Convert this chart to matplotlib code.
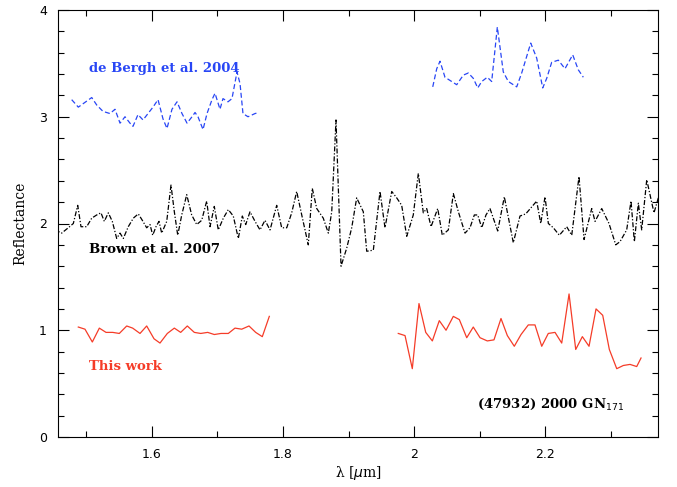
import matplotlib
matplotlib.use("Agg")
import matplotlib.pyplot as plt
from matplotlib.ticker import MultipleLocator

# de Bergh et al. 2004 (blue, dashed) - two segments
wl_db1 = [1.4774, 1.4875, 1.5080, 1.5156, 1.5252, 1.5359, 1.5435, 1.5512, 1.5588, 1.5664,
          1.5710, 1.5786, 1.5863, 1.5939, 1.6015, 1.6092, 1.6168, 1.6229, 1.6305, 1.6382,
          1.6458, 1.6535, 1.6611, 1.6657, 1.6702, 1.6779, 1.6840, 1.6916, 1.6962, 1.7038,
          1.7084, 1.7160, 1.7221, 1.7298, 1.7344, 1.7389, 1.7466, 1.7573, 1.7634]
rf_db1 = [3.16, 3.09, 3.18, 3.11, 3.05, 3.03, 3.07, 2.94, 3.00, 2.94,
          2.91, 3.02, 2.97, 3.03, 3.09, 3.16, 2.98, 2.89, 3.07, 3.14,
          3.03, 2.94, 3.00, 3.04, 3.00, 2.88, 3.03, 3.16, 3.22, 3.07,
          3.17, 3.14, 3.17, 3.42, 3.31, 3.03, 3.00, 3.03, 3.04]
wl_db2 = [2.0286, 2.0347, 2.0397, 2.0473, 2.0550, 2.0652, 2.0753, 2.0829, 2.0905, 2.0973,
          2.1034, 2.1119, 2.1186, 2.1272, 2.1363, 2.1440, 2.1568, 2.1644, 2.1782, 2.1873,
          2.1965, 2.2026, 2.2102, 2.2203, 2.2305, 2.2423, 2.2508, 2.2585]
rf_db2 = [3.28, 3.45, 3.52, 3.37, 3.34, 3.30, 3.39, 3.41, 3.36, 3.27,
          3.33, 3.37, 3.33, 3.84, 3.42, 3.33, 3.28, 3.41, 3.69, 3.55,
          3.27, 3.36, 3.51, 3.53, 3.45, 3.58, 3.44, 3.37]

# Brown et al. 2007 (black, dash-dot)
wl_br = [1.4520, 1.4621, 1.4722, 1.4799, 1.4866, 1.4916, 1.5003, 1.5080, 1.5156, 1.5221,
         1.5272, 1.5333, 1.5394, 1.5461, 1.5512, 1.5562, 1.5638, 1.5715, 1.5791, 1.5852,
         1.5919, 1.5970, 1.6011, 1.6061, 1.6107, 1.6148, 1.6225, 1.6290, 1.6341, 1.6393,
         1.6454, 1.6530, 1.6606, 1.6683, 1.6759, 1.6835, 1.6886, 1.6951, 1.7012, 1.7089,
         1.7165, 1.7241, 1.7318, 1.7379, 1.7431, 1.7496, 1.7573, 1.7649, 1.7725, 1.7802,
         1.7904, 1.7980, 1.8057, 1.8133, 1.8209, 1.8286, 1.8386, 1.8447, 1.8515, 1.8615,
         1.8692, 1.8744, 1.8809, 1.8886, 1.8973, 1.9049, 1.9125, 1.9226, 1.9278, 1.9379,
         1.9481, 1.9557, 1.9660, 1.9736, 1.9812, 1.9889, 1.9989, 2.0066, 2.0142, 2.0194,
         2.0260, 2.0362, 2.0432, 2.0524, 2.0601, 2.0677, 2.0779, 2.0855, 2.0921, 2.0973,
         2.1034, 2.1099, 2.1160, 2.1278, 2.1379, 2.1516, 2.1618, 2.1706, 2.1873, 2.1935,
         2.2000, 2.2051, 2.2127, 2.2219, 2.2331, 2.2408, 2.2519, 2.2596, 2.2713, 2.2764,
         2.2866, 2.2977, 2.3080, 2.3145, 2.3247, 2.3313, 2.3364, 2.3425, 2.3476, 2.3553,
         2.3603, 2.3664, 2.3730]
rf_br = [1.94, 1.91, 1.96, 2.00, 2.17, 1.97, 1.97, 2.05, 2.08, 2.10,
         2.02, 2.10, 2.02, 1.86, 1.91, 1.86, 1.97, 2.05, 2.09, 2.03,
         1.96, 1.99, 1.89, 1.97, 2.02, 1.91, 2.02, 2.36, 2.11, 1.89,
         2.08, 2.27, 2.08, 1.99, 2.03, 2.21, 1.97, 2.16, 1.94, 2.05,
         2.13, 2.07, 1.86, 2.07, 1.99, 2.11, 2.02, 1.94, 2.03, 1.94,
         2.17, 1.96, 1.96, 2.10, 2.30, 2.08, 1.80, 2.33, 2.14, 2.05,
         1.91, 2.11, 2.97, 1.60, 1.77, 1.96, 2.24, 2.11, 1.74, 1.75,
         2.30, 1.96, 2.30, 2.24, 2.17, 1.88, 2.08, 2.47, 2.10, 2.14,
         1.97, 2.14, 1.89, 1.94, 2.28, 2.11, 1.91, 1.96, 2.08, 2.08,
         1.96, 2.08, 2.14, 1.93, 2.25, 1.82, 2.07, 2.09, 2.21, 2.00,
         2.25, 2.00, 1.96, 1.89, 1.97, 1.89, 2.44, 1.85, 2.14, 2.02,
         2.14, 2.00, 1.80, 1.83, 1.94, 2.21, 1.83, 2.19, 1.94, 2.41,
         2.27, 2.10, 2.24]

# This work (red, solid) - two segments
wl_tw1 = [1.4875, 1.4977, 1.5089, 1.5196, 1.5298, 1.5400, 1.5501, 1.5614, 1.5705, 1.5817,
          1.5919, 1.6031, 1.6122, 1.6234, 1.6341, 1.6438, 1.6539, 1.6646, 1.6744, 1.6850,
          1.6951, 1.7054, 1.7165, 1.7267, 1.7370, 1.7481, 1.7583, 1.7684, 1.7791]
rf_tw1 = [1.03, 1.01, 0.89, 1.02, 0.98, 0.98, 0.97, 1.04, 1.02, 0.97,
          1.04, 0.92, 0.88, 0.97, 1.02, 0.98, 1.04, 0.98, 0.97, 0.98,
          0.96, 0.97, 0.97, 1.02, 1.01, 1.04, 0.98, 0.94, 1.13]
wl_tw2 = [1.9760, 1.9863, 1.9974, 2.0076, 2.0179, 2.0280, 2.0386, 2.0489, 2.0600, 2.0692,
          2.0805, 2.0905, 2.1008, 2.1119, 2.1221, 2.1328, 2.1425, 2.1531, 2.1634, 2.1745,
          2.1847, 2.1950, 2.2050, 2.2153, 2.2255, 2.2367, 2.2469, 2.2570, 2.2672, 2.2779,
          2.2881, 2.2982, 2.3095, 2.3196, 2.3298, 2.3400, 2.3466]
rf_tw2 = [0.97, 0.95, 0.64, 1.25, 0.98, 0.90, 1.09, 1.00, 1.13, 1.10,
          0.93, 1.03, 0.93, 0.90, 0.91, 1.11, 0.95, 0.85, 0.96, 1.05,
          1.05, 0.85, 0.97, 0.98, 0.88, 1.34, 0.82, 0.94, 0.85, 1.20,
          1.14, 0.82, 0.64, 0.67, 0.68, 0.66, 0.74]

BLUE = "#2846f5"
RED = "#f53c28"

fig = plt.figure(figsize=(6.77, 4.87), dpi=100)
ax = fig.add_axes([58 / 677, (487 - 437) / 487, 600 / 677, 427 / 487])

dash_blue = (0, (4, 2.2))
dash_black = (0, (4, 1.5, 1, 1.5))
ax.plot(wl_db1, rf_db1, color=BLUE, lw=0.9, ls=dash_blue)
ax.plot(wl_db2, rf_db2, color=BLUE, lw=0.9, ls=dash_blue)
ax.plot(wl_br, rf_br, color="black", lw=0.9, ls=dash_black)
ax.plot(wl_tw1, rf_tw1, color=RED, lw=0.9)
ax.plot(wl_tw2, rf_tw2, color=RED, lw=0.9)

ax.set_xlim(1.4565, 2.3725)
ax.set_ylim(0, 4)
ax.xaxis.set_major_locator(MultipleLocator(0.2))
ax.xaxis.set_minor_locator(MultipleLocator(0.1))
ax.yaxis.set_major_locator(MultipleLocator(1))
ax.yaxis.set_minor_locator(MultipleLocator(0.2))
ax.set_xticks([1.6, 1.8, 2.0, 2.2])
ax.set_xticklabels(["1.6", "1.8", "2", "2.2"])
ax.tick_params(which="both", direction="in", top=True, right=True, labelsize=9, width=0.8)
ax.tick_params(which="major", length=8, pad=8)
ax.tick_params(which="minor", length=4)
for s in ax.spines.values():
    s.set_linewidth(0.8)

tfont = dict(family="DejaVu Serif", fontsize=9.5, fontweight="bold")
ax.text(1.5045, 3.42, "de Bergh et al. 2004", color=BLUE, **tfont)
ax.text(1.5045, 1.72, "Brown et al. 2007", color="black", **tfont)
ax.text(1.5045, 0.63, "This work", color=RED, **tfont)
ax.text(2.0962, 0.27, "(47932) 2000 GN$_{171}$", color="black", **tfont)

ax.set_xlabel(r"λ [$\mu$m]", fontsize=10, family="DejaVu Serif", labelpad=2)
ax.set_ylabel("Reflectance", fontsize=10, family="DejaVu Serif", labelpad=8)

fig.savefig("out.png", dpi=100)
